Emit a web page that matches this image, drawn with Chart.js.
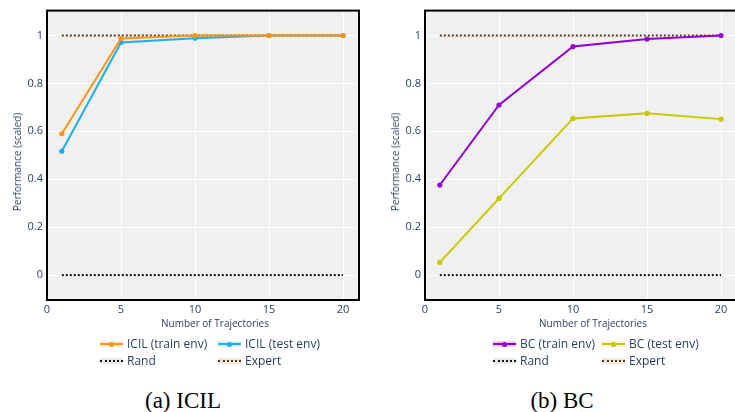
<!DOCTYPE html>
<html>
<head>
<meta charset="utf-8">
<script src="https://cdn.jsdelivr.net/npm/chart.js@4.4.1/dist/chart.umd.min.js"></script>
<style>
  html, body { margin: 0; padding: 0; background: #fff; }
  body { width: 735px; height: 412px; position: relative; overflow: hidden; font-family: "Open Sans", sans-serif; }
  .chart { position: absolute; top: 0; width: 367px; height: 330px; }
  .chart canvas { display: block; }
  .legend { position: absolute; font-size: 12px; color: #2a3f5f; }
  .item { position: absolute; white-space: nowrap; height: 14px; line-height: 14px; }
  .icon { position: absolute; top: 0; width: 23px; height: 14px; }
  .band { position: absolute; left: 0; right: 0; top: 4px; height: 6px; opacity: 0.18; }
  .stroke { position: absolute; left: 0; right: 0; top: 6px; height: 0; }
  .dot { position: absolute; left: 9px; top: 4.5px; width: 5px; height: 5px; border-radius: 50%; }
  .label { position: absolute; left: 27px; top: 0; }
  .xtitle, .ytitle { position: absolute; font-size: 10px; color: #2a3f5f; white-space: nowrap; line-height: 12px; }
  .xtitle { top: 317px; transform: translateX(-50%); }
  .ytitle { transform: translate(-50%, -50%) rotate(-90deg); }
  .caption { position: absolute; top: 388px; font-family: "Liberation Serif", "Times New Roman", serif; font-size: 23px; line-height: 26px; color: #000; transform: translateX(-50%); white-space: nowrap; }
</style>
</head>
<body>
<div class="chart" style="left:0"><canvas id="icil" width="367" height="330"></canvas></div>
<div class="chart" style="left:378px"><canvas id="bc" width="367" height="330"></canvas></div>
<div class="xtitle" style="left:215px">Number of Trajectories</div>
<div class="xtitle" style="left:593px">Number of Trajectories</div>
<div class="ytitle" style="left:17px; top:162px">Performance (scaled)</div>
<div class="ytitle" style="left:395px; top:162px">Performance (scaled)</div>
<div class="legend" id="legend-icil" style="left:100px; top:337px"></div>
<div class="legend" id="legend-bc" style="left:493px; top:337px"></div>
<div class="caption" style="left:183px">(a) ICIL</div>
<div class="caption" style="left:562px">(b) BC</div>
<script>
// trajectories on the x axis
const trajectories = [1, 5, 10, 15, 20];
const xTicks = [0, 5, 10, 15, 20];
const yTicks = [0, 0.2, 0.4, 0.6, 0.8, 1];

// scaled performance
const icilTrain = [0.59, 0.988, 1.0, 1.0, 1.0];
const icilTest = [0.517, 0.971, 0.989, 1.0, 1.0];
const bcTrain = [0.376, 0.71, 0.954, 0.985, 1.0];
const bcTest = [0.053, 0.32, 0.654, 0.675, 0.651];
const randLevel = 0;
const expertLevel = 1;

const textColor = '#2a3f5f';

const framePlugin = {
    id: 'frame',
    beforeDraw(chart) {
        const { ctx, chartArea: a } = chart;
        ctx.save();
        ctx.fillStyle = '#f0f0f0';
        ctx.fillRect(a.left, a.top, a.right - a.left, a.bottom - a.top);
        ctx.restore();
    },
    afterDraw(chart) {
        const { ctx, chartArea: a } = chart;
        ctx.save();
        ctx.strokeStyle = '#000';
        ctx.lineWidth = 2;
        ctx.strokeRect(a.left, a.top, a.right - a.left, a.bottom - a.top);
        ctx.restore();
    }
};

function flatLine(level) {
    return [{ x: trajectories[0], y: level }, { x: trajectories[trajectories.length - 1], y: level }];
}

function lineSet(label, values, color, order) {
    return {
        label,
        order,
        data: trajectories.map((x, i) => ({ x, y: values[i] })),
        borderColor: color,
        backgroundColor: color,
        borderWidth: 2,
        pointRadius: 2.6,
        pointBorderWidth: 0,
        tension: 0
    };
}

function dottedSet(label, level, color, order) {
    return {
        label,
        order,
        data: flatLine(level),
        borderColor: color,
        borderWidth: 2,
        borderDash: [2, 2],
        pointRadius: 0,
        tension: 0
    };
}

function makeChart(id, datasets) {
    const ctx = document.getElementById(id).getContext('2d');
    return new Chart(ctx, {
        type: 'line',
        data: { datasets },
        plugins: [framePlugin],
        options: {
            responsive: false,
            animation: false,
            maintainAspectRatio: false,
            layout: { padding: { top: 9, right: 8, left: 0, bottom: 0 } },
            plugins: { legend: { display: false }, tooltip: { enabled: false } },
            scales: {
                x: {
                    type: 'linear',
                    min: 0,
                    max: 21.08,
                    afterBuildTicks: s => { s.ticks = xTicks.map(v => ({ value: v })); },
                    afterFit: s => { s.height = 30; },
                    grid: { color: '#fff', lineWidth: 1, drawTicks: false },
                    border: { display: false },
                    ticks: { color: textColor, font: { family: 'Open Sans', size: 11 }, padding: 3, maxRotation: 0, callback: v => String(v) }
                },
                y: {
                    min: -0.104,
                    max: 1.104,
                    afterBuildTicks: s => { s.ticks = yTicks.map(v => ({ value: v })); },
                    afterFit: s => { s.width = 47; },
                    grid: { color: '#fff', lineWidth: 1, drawTicks: false },
                    border: { display: false },
                    ticks: { color: textColor, font: { family: 'Open Sans', size: 11 }, padding: 4, callback: v => String(v) }
                }
            }
        }
    });
}

makeChart('icil', [
    lineSet('ICIL (train env)', icilTrain, '#ff9410', 0),
    lineSet('ICIL (test env)', icilTest, '#1aaff0', 1),
    dottedSet('Rand', randLevel, '#111', 2),
    dottedSet('Expert', expertLevel, '#5a3a1a', 3)
]);

makeChart('bc', [
    lineSet('BC (train env)', bcTrain, '#9400d3', 0),
    lineSet('BC (test env)', bcTest, '#c8c800', 1),
    dottedSet('Rand', randLevel, '#111', 2),
    dottedSet('Expert', expertLevel, '#5a3a1a', 3)
]);

function legendItem(x, y, label, color, dotted, bandColor) {
    const stroke = dotted
        ? `<div class="stroke" style="border-top:2px dotted ${color}"></div>`
        : `<div class="stroke" style="border-top:2px solid ${color}"></div><div class="dot" style="background:${color}"></div>`;
    return `<div class="item" style="left:${x}px; top:${y}px">
        <div class="icon"><div class="band" style="background:${bandColor}"></div>${stroke}</div>
        <div class="label">${label}</div></div>`;
}

document.getElementById('legend-icil').innerHTML =
    legendItem(0, 0, 'ICIL (train env)', '#ff9410', false, '#ff9410') +
    legendItem(118, 0, 'ICIL (test env)', '#1aaff0', false, '#1aaff0') +
    legendItem(0, 17, 'Rand', '#111', true, '#888') +
    legendItem(118, 17, 'Expert', '#5a3a1a', true, '#b08050');

document.getElementById('legend-bc').innerHTML =
    legendItem(0, 0, 'BC (train env)', '#9400d3', false, '#9400d3') +
    legendItem(109, 0, 'BC (test env)', '#c8c800', false, '#c8c800') +
    legendItem(0, 17, 'Rand', '#111', true, '#888') +
    legendItem(109, 17, 'Expert', '#5a3a1a', true, '#b08050');
</script>
</body>
</html>
